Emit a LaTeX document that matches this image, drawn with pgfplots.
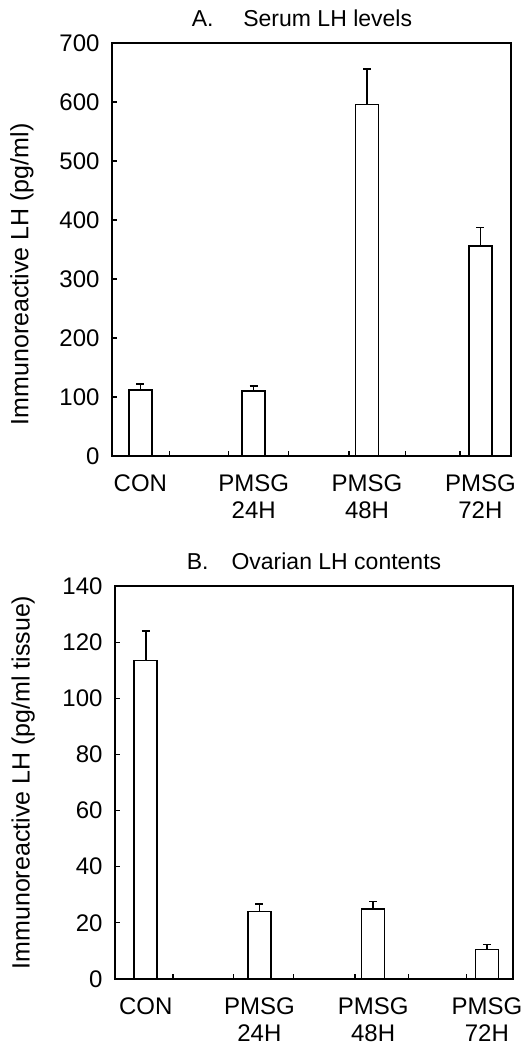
\documentclass[border=0pt]{standalone}
\usepackage{fontspec}
\setmainfont{Liberation Sans}
\usepackage{pgfplots}
\pgfplotsset{compat=1.18}

\newcommand{\twol}[2]{\begin{tabular}{@{}c@{}}#1\\#2\end{tabular}}

\pgfplotsset{
  panel/.style={
    scale only axis,
    ybar, bar width=11.5pt,
    ymin=0,
    axis line style={line width=0.9pt},
    tick align=inside, xtick pos=bottom, ytick pos=left,
    major tick length=2.5pt,
    tick style={line width=0.6pt, black},
    xticklabels={},
    extra x ticks={0,1,2,3},
    extra x tick labels={\twol{CON}{},\twol{PMSG}{24H},\twol{PMSG}{48H},\twol{PMSG}{72H}},
    extra x tick style={major tick length=0pt,
      xticklabel style={anchor=north, yshift=-5pt}},
    ticklabel style={font=\fontsize{12}{13.5}\selectfont},
    yticklabel style={xshift=-2.7pt},
    /pgf/number format/assume math mode=true,
    label style={font=\fontsize{12.5}{15}\selectfont},
    title style={font=\fontsize{11.5}{14}\selectfont, anchor=base},
  },
  lhbar/.style={fill=white, draw=black, line width=0.8pt,
    error bars/.cd, y dir=plus, y explicit,
    error mark=-,
    error bar style={line width=0.8pt},
    error mark options={rotate=90, mark size=2pt, line width=0.8pt, black}},
}

\begin{document}
\begin{tikzpicture}
\useasboundingbox (0,0) rectangle (265.5pt,-524pt);

% A. serum LH
\begin{axis}[panel,
  at={(56pt,-21.5pt)}, anchor=north west,
  width=199.5pt, height=206.5pt,
  xmin=-0.25, xmax=3.27,
  ymax=700, ytick={0,100,...,700},
  xtick={0.26,0.78,1.31,1.84,2.34,2.82},
  ylabel={Immunoreactive LH (pg/ml)},
  ylabel style={at={(axis description cs:-0.226,0.44)}, anchor=center},
  title={A.\hspace{1.3em}Serum LH levels},
  title style={at={(axis description cs:0.476,1)}, yshift=2pt},
]
\addplot[lhbar] coordinates {
  (0,112) +- (0,10)
  (1,110) +- (0,9)
  (2,596) +- (0,60)
  (3,356) +- (0,31)
};
\end{axis}

% B. ovarian LH
\begin{axis}[panel,
  at={(57.5pt,-293pt)}, anchor=north west,
  width=199pt, height=196.5pt,
  xmin=-0.27, xmax=3.23,
  ymax=140, ytick={0,20,...,140},
  xtick={0.24,0.77,1.30,1.84,2.31,2.82},
  ylabel={Immunoreactive LH (pg/ml tissue)},
  ylabel style={at={(axis description cs:-0.231,0.5)}, anchor=center},
  title={B.\hspace{1.0em}Ovarian LH contents},
  title style={at={(axis description cs:0.50,1)}, yshift=2.5pt},
]
\addplot[lhbar] coordinates {
  (0,113.5) +- (0,10.5)
  (1,24) +- (0,2.8)
  (2,25) +- (0,2.6)
  (3,10.5) +- (0,1.8)
};
\end{axis}
\end{tikzpicture}
\end{document}
